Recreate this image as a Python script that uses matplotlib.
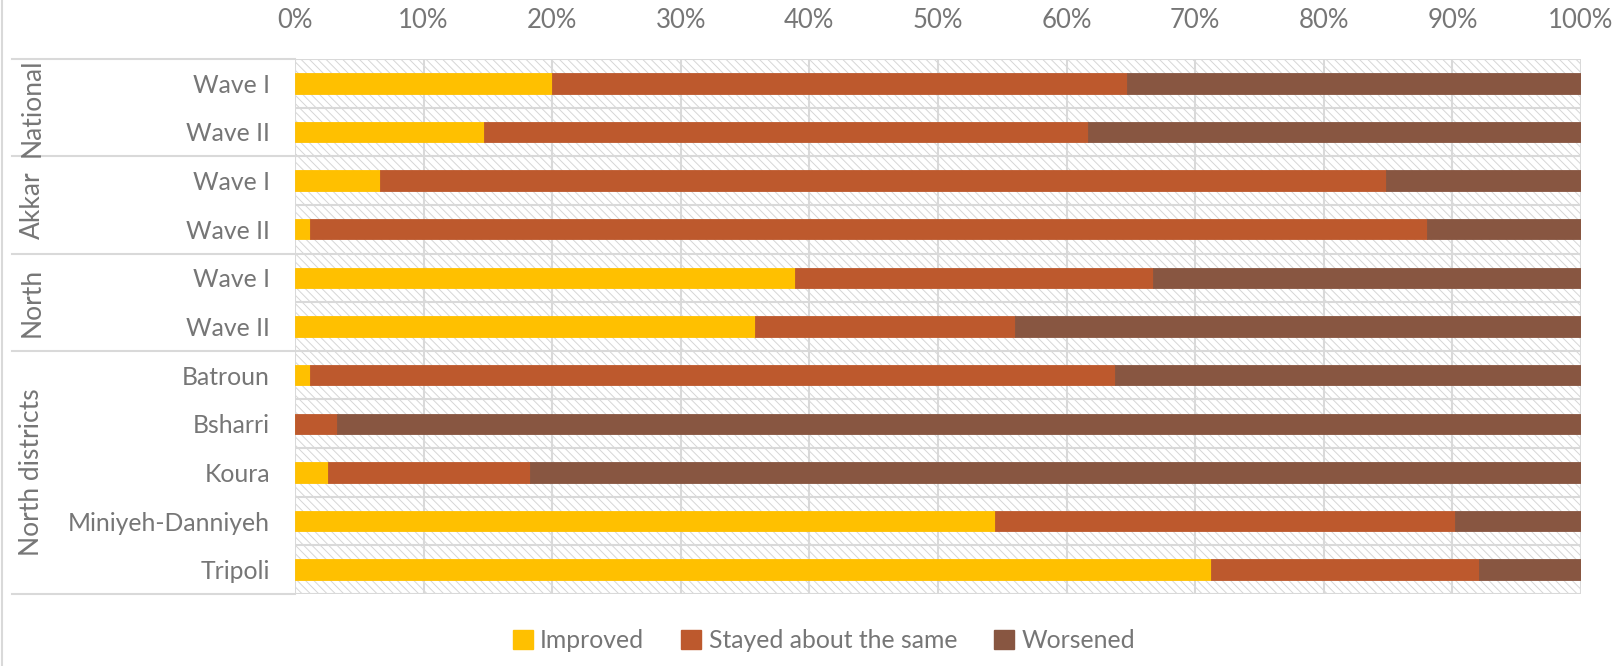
import matplotlib
matplotlib.use("Agg")
import matplotlib.pyplot as plt
from matplotlib.patches import Rectangle, Patch
import matplotlib.transforms as mtransforms

# ---- data ----
groups = ["National", "Akkar", "North", "North districts"]
group_sizes = [2, 2, 2, 5]
categories = ["Wave I", "Wave II", "Wave I", "Wave II", "Wave I", "Wave II",
              "Batroun", "Bsharri", "Koura", "Miniyeh-Danniyeh", "Tripoli"]
improved = [20.0, 14.7, 6.6, 1.2, 38.9, 35.8, 1.2, 0.0, 2.6, 54.4, 71.2]
same = [44.7, 47.0, 78.2, 86.8, 27.8, 20.2, 62.6, 3.3, 15.7, 35.8, 20.9]
worsened = [35.3, 38.3, 15.2, 12.0, 33.3, 44.0, 36.2, 96.7, 81.7, 9.8, 7.9]
series_names = ["Improved", "Stayed about the same", "Worsened"]
colors = ["#FFC000", "#BD592D", "#885641"]
xticks = list(range(0, 101, 10))
xtick_labels = [f"{t}%" for t in xticks]

FONT = "Lato"
TXT = "#767676"
GRID = "#D9D9D9"

plt.rcParams["font.family"] = [FONT, "DejaVu Sans"]
plt.rcParams["hatch.color"] = "#D6D6D6"
plt.rcParams["hatch.linewidth"] = 0.7

W, H = 1615, 666
fig = plt.figure(figsize=(W / 100, H / 100), dpi=100)
L, R, T, B = 295, 1581, 59, 594
ax = fig.add_axes([L / W, 1 - B / H, (R - L) / W, (B - T) / H])

n = len(categories)
ys = list(range(n))

# hatched background
bg = Rectangle((0, 0), 1, 1, transform=ax.transAxes, facecolor="white",
               edgecolor="#D6D6D6", hatch="\\\\\\\\", linewidth=0, zorder=0)
ax.add_patch(bg)

left = [0.0] * n
for vals, c in zip([improved, same, worsened], colors):
    ax.barh(ys, vals, left=left, height=0.42, color=c, edgecolor=c,
            linewidth=0.6, zorder=3)
    left = [a + b for a, b in zip(left, vals)]

ax.set_xlim(0, 100)
ax.set_ylim(n - 0.5, -0.5)

for t in xticks:
    ax.axvline(t, color=GRID, lw=1.5, zorder=1)
for i in range(n + 1):
    ax.axhline(i - 0.5, color=GRID, lw=1.5, zorder=1)

trans = mtransforms.blended_transform_factory(ax.transAxes, ax.transData)
x_left = (12 - L) / (R - L)
bounds = [-0.5]
acc = -0.5
for s in group_sizes:
    acc += s
    bounds.append(acc)
for b in bounds:
    ax.plot([x_left, 0], [b, b], transform=trans, color=GRID, lw=1.5,
            clip_on=False, zorder=1)

x_grp = (32 - L) / (R - L)
start = -0.5
for g, s in zip(groups, group_sizes):
    ax.text(x_grp, start + s / 2, g, transform=trans, rotation=90,
            ha="center", va="center", fontsize=19, color=TXT)
    start += s

for sp in ax.spines.values():
    sp.set_visible(False)

ax.xaxis.tick_top()
ax.set_xticks(xticks)
ax.set_xticklabels(xtick_labels, fontsize=18.5, color=TXT)
ax.set_yticks(ys)
ax.set_yticklabels(categories, fontsize=17.8, color=TXT)
ax.tick_params(axis="x", length=0, pad=19)
ax.tick_params(axis="y", length=0, pad=18)

fig.add_artist(plt.Line2D([2 / W, 2 / W], [0, 1], color=GRID, lw=1.5,
                          transform=fig.transFigure))

handles = [Patch(facecolor=c, edgecolor=c) for c in colors]
leg = fig.legend(handles, series_names, loc="center", ncol=3,
                 bbox_to_anchor=(824 / W, 1 - 641 / H), frameon=False,
                 fontsize=17.8, handlelength=0.8, handleheight=0.8,
                 handletextpad=0.3, columnspacing=1.5)
for t in leg.get_texts():
    t.set_color(TXT)

fig.savefig("out.png", dpi=100)
